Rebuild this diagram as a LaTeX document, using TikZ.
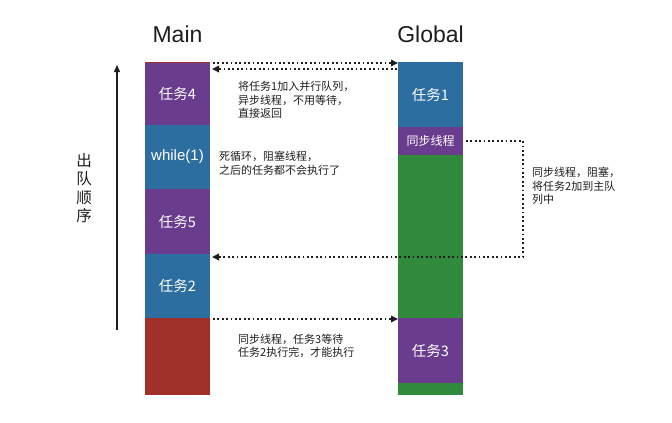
\documentclass[tikz,border=0pt]{standalone}
\usepackage{fontspec}
\setmainfont{Liberation Sans}
\newfontfamily\cjk{Noto Sans CJK SC}
\usetikzlibrary{arrows.meta}
\definecolor{cpurple}{HTML}{6A3C8D}
\definecolor{cblue}{HTML}{2D6EA0}
\definecolor{cgreen}{HTML}{2F8A3C}
\definecolor{cred}{HTML}{A2302A}
\definecolor{cdark}{HTML}{1E1E1E}
\tikzset{
  blk/.style={rectangle, inner sep=0pt, outer sep=0pt, minimum width=65pt, text=white, font=\cjk\fontsize{14.5}{16}\selectfont},
  dotline/.style={line width=1.8pt, dash pattern=on 1.8pt off 2.6pt, cdark, -{Triangle[length=7pt,width=6.5pt]}},
  note/.style={anchor=north west, inner sep=0pt, align=left, text=cdark, font=\cjk\fontsize{11}{13.4}\selectfont},
  title/.style={anchor=base, inner sep=0pt, font=\fontsize{23}{26}\selectfont, text=cdark}
}
\begin{document}
\begin{tikzpicture}[x=1pt,y=-1pt]
\useasboundingbox[fill=white] (0,0) rectangle (672,423);
% titles
\node[title] (tmain) at (177.5,42.7) {Main};
\node[title] (tglob) at (430.5,42.7) {Global};
% Main column
\node[blk, fill=cred, minimum height=77pt] (mr) at (177.5,356.5) {};
\node[blk, fill=cblue, minimum height=64pt] (m2) at (177.5,286) {任务2};
\node[blk, fill=cpurple, minimum height=65pt] (m5) at (177.5,221.5) {任务5};
\node[blk, fill=cblue, minimum height=64pt, font=\fontsize{15}{17}\selectfont] (mw) at (177.5,157) {while(1)};
\node[blk, fill=cpurple, minimum height=63pt] (m4) at (177.5,93.5) {任务4};
\fill[cred] (m4.north west) rectangle ([yshift=-1pt]m4.north east);
% Global column
\node[blk, fill=cgreen, minimum height=77pt] (gb) at (430.5,356.5) {};
\node[blk, fill=cpurple, minimum height=65pt] (g3) at (430.5,350.5) {任务3};
\node[blk, fill=cgreen, minimum height=163pt] (gg) at (430.5,236.5) {};
\node[blk, fill=cpurple, minimum height=28pt, font=\cjk\fontsize{12}{14}\selectfont] (gs) at (430.5,141) {同步线程};
\node[blk, fill=cblue, minimum height=65pt] (g1) at (430.5,94.5) {任务1};
% order arrow
\coordinate (ab) at (117,330);
\coordinate (at) at (117,65);
\draw[line width=1.4pt, cdark, -{Triangle[length=7pt,width=6pt]}] (ab) -- (at);
\node[anchor=center, inner sep=0pt, align=center, text=cdark, font=\cjk\fontsize{15.5}{18.5}\selectfont] (lbl) at (84,188) {出\\队\\顺\\序};
% connectors
\draw[dotline] ([xshift=3pt,yshift=-1pt]m4.north east) -- ([yshift=-1pt]g1.north west);
\draw[dotline] ([xshift=-1pt,yshift=-7pt]g1.north west) -- ([xshift=2pt,yshift=-7pt]m4.north east);
\coordinate (sc) at (523,141);
\draw[dotline] ([xshift=3pt]gs.east) -- (sc) |- ([xshift=2pt,yshift=-3pt]m2.north east);
\draw[dotline] ([xshift=3pt,yshift=-1pt]m2.south east) -- ([yshift=-1pt]g3.north west);
% notes
\node[note] (n1) at (238,81.3) {将任务1加入并行队列，\\异步线程，不用等待，\\直接返回};
\node[note] (n2) at (219,151.3) {死循环，阻塞线程，\\之后的任务都不会执行了};
\node[note] (n3) at (532,167.3) {同步线程，阻塞，\\将任务2加到主队\\列中};
\node[note] (n4) at (238,333.8) {同步线程，任务3等待\\任务2执行完，才能执行};
\end{tikzpicture}
\end{document}
